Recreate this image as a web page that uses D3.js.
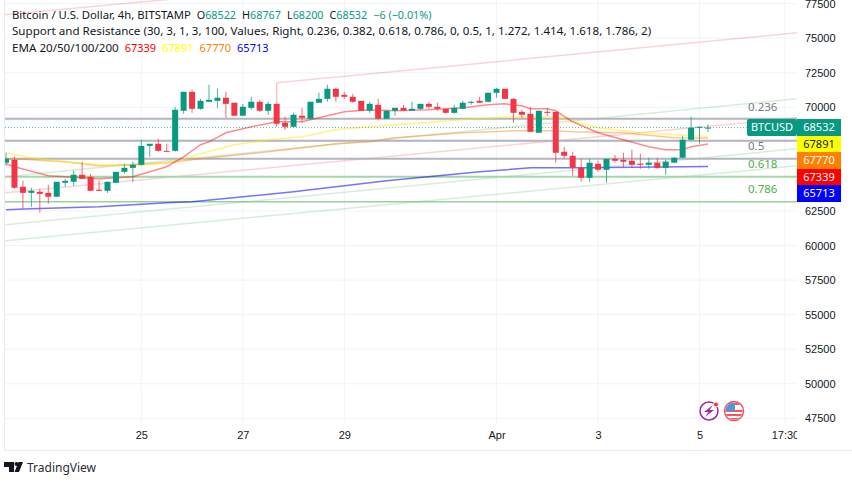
<!DOCTYPE html>
<html>
<head>
<meta charset="utf-8">
<script src="https://cdnjs.cloudflare.com/ajax/libs/d3/7.8.5/d3.min.js"></script>
<style>
  html, body { margin: 0; padding: 0; background: #fff; }
  svg { display: block; font-family: "Noto Sans", sans-serif; }
  .tick text { fill: #131722; font-size: 11px; }
  .domain { display: none; }
  .tick line { display: none; }
</style>
</head>
<body>
<div id="chart"></div>
<script>
// 4h candles, oldest first
const opens = [65990, 66200, 64250, 63810, 63890, 63810, 63530, 64540, 64610, 65120, 64970, 64040, 63960, 64540, 65330, 65620, 65840, 67210, 67360, 66850, 66850, 69750, 71120, 69890, 70400, 70470, 70690, 70330, 69390, 69960, 70400, 69750, 70250, 68880, 68590, 69390, 69170, 70330, 70610, 71340, 70900, 70760, 70470, 69750, 70180, 69170, 69750, 69960, 69750, 69890, 70250, 70040, 69890, 69600, 69890, 70330, 70470, 70400, 71050, 71340, 70610, 69670, 69530, 68160, 69670, 69670, 66780, 66490, 65620, 64900, 65910, 65480, 66270, 66200, 66130, 65910, 65840, 65990, 65620, 65990, 66350, 67650, 68520, 68522];
const highs = [66710, 66420, 64680, 64180, 64100, 64390, 64610, 64830, 65410, 66060, 65190, 64680, 64610, 65330, 65910, 66060, 67650, 67360, 67720, 67360, 70040, 71120, 71270, 70610, 71630, 71340, 71120, 70330, 70250, 70760, 70540, 70400, 70250, 69310, 69600, 69960, 70400, 71050, 71630, 71410, 71120, 70980, 70470, 70400, 70610, 69750, 69960, 70180, 70400, 70250, 70400, 70330, 69890, 70180, 70470, 70470, 70760, 71050, 71410, 71340, 70690, 69820, 70040, 69750, 69960, 69670, 67140, 66780, 66270, 66270, 66130, 66270, 66560, 66710, 66930, 66640, 66350, 66350, 66200, 66420, 67940, 69310, 68590, 68767];
const lows = [65770, 64100, 62660, 62800, 62370, 63020, 63530, 64250, 64320, 64830, 63960, 63960, 63810, 64540, 65190, 64610, 65770, 66420, 66780, 66780, 66780, 69530, 69600, 69820, 70400, 69960, 69240, 69390, 69390, 69820, 69670, 69460, 68590, 68370, 68590, 68880, 69170, 70330, 70400, 70400, 70610, 70330, 69750, 69600, 69100, 69170, 69390, 69750, 69750, 69820, 69890, 69750, 69530, 69530, 69890, 70180, 70330, 70330, 70690, 70610, 68880, 69240, 68230, 68160, 69390, 65990, 66270, 65050, 64610, 64610, 65330, 64540, 65990, 65620, 65620, 65550, 65550, 65550, 65120, 65990, 66350, 67580, 67360, 68200];
const closes = [66270, 64180, 63810, 63960, 63740, 63530, 64610, 64680, 65120, 64830, 63960, 63960, 64610, 65330, 65620, 65840, 67210, 67360, 66850, 66780, 69820, 71120, 69890, 70470, 70540, 70690, 70250, 69390, 70040, 70400, 69750, 70250, 68810, 68590, 69460, 69240, 70400, 70610, 71340, 70760, 70760, 70400, 69750, 70250, 69170, 69750, 69960, 69750, 69890, 70250, 70040, 69890, 69600, 69960, 70330, 70400, 70330, 71050, 71340, 70610, 69600, 69460, 68230, 69750, 69600, 66710, 66490, 65620, 64900, 65990, 65480, 66270, 66130, 66060, 65840, 65840, 65990, 65620, 66060, 66350, 67650, 68520, 68590, 68532];

// EMA readings: candle index and value
const ema20Idx = [0, 1, 5, 9, 11, 15, 19, 21, 23, 24, 26, 29, 32, 35, 37, 40, 43, 46, 50, 54, 57, 59, 61, 62, 64, 65, 67, 70, 73, 76, 78, 80, 81, 83];
const ema20 = [65910, 65700, 65050, 64900, 64830, 64970, 65700, 66420, 67290, 67500, 68160, 68590, 68950, 68950, 69240, 69670, 69820, 69750, 69820, 69960, 70180, 70250, 70110, 69890, 69890, 69750, 68950, 68160, 67650, 67140, 66930, 66930, 67140, 67339];
const ema50Idx = [0, 3, 7, 11, 15, 19, 21, 23, 27, 31, 35, 39, 43, 46, 54, 60, 64, 65, 70, 75, 83];
const ema50 = [66710, 66350, 66060, 65840, 65770, 65990, 66270, 66640, 67290, 67650, 67870, 68370, 68590, 68730, 69100, 69310, 69310, 69310, 68520, 68160, 67891];
const ema100Idx = [0, 3, 7, 11, 15, 19, 23, 31, 39, 43, 46, 54, 60, 65, 67, 73, 79, 83];
const ema100 = [66270, 66200, 66060, 65770, 65840, 65990, 66270, 66780, 67360, 67500, 67790, 68160, 68300, 68300, 68230, 68160, 67790, 67770];
const ema200Idx = [0, 3, 11, 19, 22, 34, 45, 56, 62, 68, 83];
const ema200 = [62590, 62660, 62800, 63090, 63160, 63890, 64680, 65330, 65620, 65620, 65713];

// support and resistance levels
const grayLevels = [69170, 67580, 66270];
const paleGreenLevel = 64970;
const greenLevel = 63160;

// sloped channel lines: [startIdx, startPrice, endIdx, endPrice]
const pinkLines = [[-0.1, 76690, 20, 77850], [32, 71770, 93.5, 75390], [-0.1, 63810, 93.5, 69240]];
const greenLines = [[-0.1, 64970, 93.5, 70610], [-0.1, 61500, 93.5, 67000], [-0.1, 60340, 93.5, 65770]];

const gridTicks = [77500, 75000, 72500, 70000, 67500, 65000, 62500, 60000, 57500, 55000, 52500, 50000, 47500];
// 67500 and 65000 sit under the price badges
const priceTicks = [77500, 75000, 72500, 70000, 62500, 60000, 57500, 55000, 52500, 50000, 47500];
const timeTickIdx = [16, 28, 40, 58, 70, 82, 92.1];
const timeTickLabels = ['25', '27', '29', 'Apr', '3', '5', '17:30'];

const fibLabels = ['0.236', '0.5', '0.618', '0.786'];
const fibPrices = [70020, 67190, 65910, 64110];
const fibColors = ['#787b86', '#787b86', '#4caf50', '#4caf50'];

const badgeLabels = ['68532', '67891', '67770', '67339', '65713'];
const badgeFills = ['#089981', '#ffff00', '#ff8000', '#ff0000', '#0000ff'];
const badgeText = ['#fff', '#131722', '#fff', '#fff', '#fff'];

const legendValues = ['67339', '67891', '67770', '65713'];
const legendColors = ['#ff0000', '#ffff00', '#ff8000', '#0000ff'];

const UP = '#089981', DOWN = '#f23645';
const width = 852, height = 485;
const plotLeft = 5, plotRight = 797, plotBottom = 423, axisBottom = 450;

const svg = d3.select('#chart').append('svg')
  .attr('width', width).attr('height', height);

const x = d3.scaleLinear().domain([0, 83]).range([6, 708]);
const y = d3.scaleLinear().domain([70000, 47500]).range([107.3, 418.3]);

const defs = svg.append('defs');
defs.append('clipPath').attr('id', 'plot')
  .append('rect').attr('x', plotLeft).attr('y', 0)
  .attr('width', plotRight - plotLeft).attr('height', plotBottom);
defs.append('clipPath').attr('id', 'timeAxis')
  .append('rect').attr('x', plotLeft).attr('y', plotBottom)
  .attr('width', plotRight - plotLeft).attr('height', axisBottom - plotBottom);
defs.append('clipPath').attr('id', 'flag')
  .append('circle').attr('cx', 734).attr('cy', 411).attr('r', 8.5);

const plot = svg.append('g').attr('clip-path', 'url(#plot)');

// grid
plot.selectAll('.hgrid').data(gridTicks).enter().append('line')
  .attr('x1', plotLeft).attr('x2', plotRight)
  .attr('y1', d => y(d)).attr('y2', d => y(d))
  .attr('stroke', '#f0f3fa');
plot.selectAll('.vgrid').data(timeTickIdx).enter().append('line')
  .attr('x1', d => x(d)).attr('x2', d => x(d))
  .attr('y1', 0).attr('y2', plotBottom)
  .attr('stroke', '#f0f3fa');

// frame
svg.append('line').attr('x1', 4.5).attr('x2', 4.5).attr('y1', 0).attr('y2', axisBottom)
  .attr('stroke', '#e8ebf2');
svg.append('line').attr('x1', 4).attr('x2', width).attr('y1', axisBottom + 0.5).attr('y2', axisBottom + 0.5)
  .attr('stroke', '#e8ebf2');

// channel lines
function slopes(data, color) {
  plot.append('g').selectAll('line').data(data).enter().append('line')
    .attr('x1', d => x(d[0])).attr('y1', d => y(d[1]))
    .attr('x2', d => x(d[2])).attr('y2', d => y(d[3]))
    .attr('stroke', color).attr('stroke-opacity', 0.22).attr('stroke-width', 1.5);
}
slopes(pinkLines, DOWN);
slopes(greenLines, '#4caf50');
plot.append('line')
  .attr('x1', x(32)).attr('x2', x(32))
  .attr('y1', y(pinkLines[1][1])).attr('y2', y(highs[32]))
  .attr('stroke', DOWN).attr('stroke-opacity', 0.3).attr('stroke-width', 1.5);

// horizontal levels
plot.selectAll('.level').data(grayLevels).enter().append('line')
  .attr('x1', plotLeft).attr('x2', plotRight)
  .attr('y1', d => y(d)).attr('y2', d => y(d))
  .attr('stroke', '#b2b5be').attr('stroke-width', 2);
plot.append('line').attr('x1', plotLeft).attr('x2', plotRight)
  .attr('y1', y(paleGreenLevel)).attr('y2', y(paleGreenLevel))
  .attr('stroke', '#a5d6a7').attr('stroke-width', 2);
plot.append('line').attr('x1', plotLeft).attr('x2', plotRight)
  .attr('y1', y(greenLevel)).attr('y2', y(greenLevel))
  .attr('stroke', '#66bb6a').attr('stroke-width', 1);

// EMAs
const emaLine = d3.line().x(d => x(d[0])).y(d => y(d[1]));
function ema(idx, vals, color, alpha) {
  plot.append('path')
    .attr('d', emaLine(idx.map((d, i) => [d, vals[i]])))
    .attr('fill', 'none').attr('stroke', color)
    .attr('stroke-opacity', alpha).attr('stroke-width', 1.5);
}
ema(ema200Idx, ema200, '#0000ff', 0.55);
ema(ema100Idx, ema100, '#ff8000', 0.45);
ema(ema50Idx, ema50, '#ffee00', 0.5);
ema(ema20Idx, ema20, '#ff0000', 0.45);

// last price line
plot.append('line').attr('x1', plotLeft).attr('x2', plotRight)
  .attr('y1', y(68532)).attr('y2', y(68532))
  .attr('stroke', UP).attr('stroke-opacity', 0.7).attr('stroke-dasharray', '1,2');

// candles
const candles = plot.append('g').selectAll('g')
  .data(d3.range(opens.length)).enter().append('g');
const candleColor = i => closes[i] >= opens[i] ? UP : DOWN;
candles.append('line')
  .attr('x1', i => x(i)).attr('x2', i => x(i))
  .attr('y1', i => y(highs[i])).attr('y2', i => y(lows[i]))
  .attr('stroke', candleColor).attr('stroke-opacity', 0.75);
candles.append('rect')
  .attr('x', i => x(i) - 3).attr('width', 6)
  .attr('y', i => y(Math.max(opens[i], closes[i])))
  .attr('height', i => Math.max(1, y(Math.min(opens[i], closes[i])) - y(Math.max(opens[i], closes[i]))))
  .attr('fill', candleColor);

// fib labels
plot.selectAll('.fib').data(fibLabels).enter().append('text')
  .attr('x', 748).attr('y', (d, i) => y(fibPrices[i]))
  .attr('dy', '0.35em')
  .attr('font-size', 11.5)
  .attr('fill', (d, i) => fibColors[i])
  .text(d => d);

// axes
svg.append('g').attr('transform', 'translate(799,0)')
  .call(d3.axisRight(y).tickValues(priceTicks).tickSize(0).tickPadding(6).tickFormat(d3.format('d')));
svg.append('g').attr('clip-path', 'url(#timeAxis)')
  .append('g').attr('transform', 'translate(0,431)')
  .call(d3.axisBottom(x).tickValues(timeTickIdx).tickSize(0).tickPadding(0)
    .tickFormat((d, i) => timeTickLabels[i]));

// price badges
const badgeTop = [119, 136, 152, 169, 185];
const badges = svg.append('g').selectAll('g').data(badgeLabels).enter().append('g');
badges.append('rect')
  .attr('x', 797).attr('width', 44)
  .attr('y', (d, i) => badgeTop[i]).attr('height', 17)
  .attr('fill', (d, i) => badgeFills[i]);
badges.append('text')
  .attr('x', 819).attr('y', (d, i) => badgeTop[i] + 8.5).attr('dy', '0.35em')
  .attr('text-anchor', 'middle').attr('font-size', 11)
  .attr('fill', (d, i) => badgeText[i])
  .text(d => d);
svg.append('rect').attr('x', 747).attr('y', 119).attr('width', 50).attr('height', 17)
  .attr('rx', 2).attr('fill', UP);
svg.append('text').attr('x', 772).attr('y', 127.5).attr('dy', '0.35em')
  .attr('text-anchor', 'middle').attr('font-size', 11).attr('fill', '#fff')
  .text('BTCUSD');

// legend
const legend = svg.append('g').attr('font-size', 11.6).attr('fill', '#131722');
const row1 = legend.append('text').attr('x', 12).attr('y', 19);
row1.append('tspan').attr('font-size', 11.3).text('Bitcoin / U.S. Dollar, 4h, BITSTAMP');
[['O', '68522'], ['H', '68767'], ['L', '68200'], ['C', '68532']].forEach(d => {
  row1.append('tspan').attr('dx', 6).attr('font-size', 10.8).text(d[0]);
  row1.append('tspan').attr('font-size', 10.8).attr('fill', UP).text(d[1]);
});
row1.append('tspan').attr('dx', 6).attr('font-size', 10.8).attr('fill', UP).text('\u22126 (\u22120.01%)');
legend.append('text').attr('x', 12).attr('y', 35)
  .text('Support and Resistance (30, 3, 1, 3, 100, Values, Right, 0.236, 0.382, 0.618, 0.786, 0, 0.5, 1, 1.272, 1.414, 1.618, 1.786, 2)');
const row3 = legend.append('text').attr('x', 12).attr('y', 52);
row3.append('tspan').text('EMA 20/50/100/200');
legendValues.forEach((d, i) => {
  row3.append('tspan').attr('dx', 6).attr('font-size', 11).attr('fill', legendColors[i]).text(d);
});

// event icons
svg.append('circle').attr('cx', 709).attr('cy', 411).attr('r', 9)
  .attr('fill', '#fff').attr('stroke', '#9c27b0').attr('stroke-width', 1.5);
svg.append('path').attr('d', 'M713 405 L704 412 L708.5 412 L705 417 L714 410 L709.5 410 Z')
  .attr('fill', '#9c27b0');
svg.append('circle').attr('cx', 716).attr('cy', 404.5).attr('r', 2.5)
  .attr('fill', '#f23645').attr('stroke', '#fff');
const flag = svg.append('g').attr('clip-path', 'url(#flag)');
flag.append('rect').attr('x', 725).attr('y', 402).attr('width', 18).attr('height', 18).attr('fill', '#fff');
[410, 414, 418].forEach(d => flag.append('rect').attr('x', 725).attr('y', d).attr('width', 18).attr('height', 2).attr('fill', '#f7525f'));
flag.append('rect').attr('x', 725).attr('y', 402).attr('width', 18).attr('height', 3).attr('fill', '#f7525f');
flag.append('rect').attr('x', 725).attr('y', 403).attr('width', 10).attr('height', 8).attr('fill', '#4b9ae0');
svg.append('circle').attr('cx', 734).attr('cy', 411).attr('r', 9.5)
  .attr('fill', 'none').attr('stroke', '#f7525f').attr('stroke-width', 1.5);

// TradingView mark
svg.append('path').attr('d', 'M4 462 H14 V472 H9 V467 H4 Z M19 472 L23 462 H18.5 L14.5 472 Z')
  .attr('fill', '#131722');
svg.append('circle').attr('cx', 16.5).attr('cy', 464).attr('r', 2).attr('fill', '#131722');
svg.append('text').attr('x', 27).attr('y', 472).attr('font-size', 12).attr('fill', '#2a2e39')
  .text('TradingView');
</script>
</body>
</html>
